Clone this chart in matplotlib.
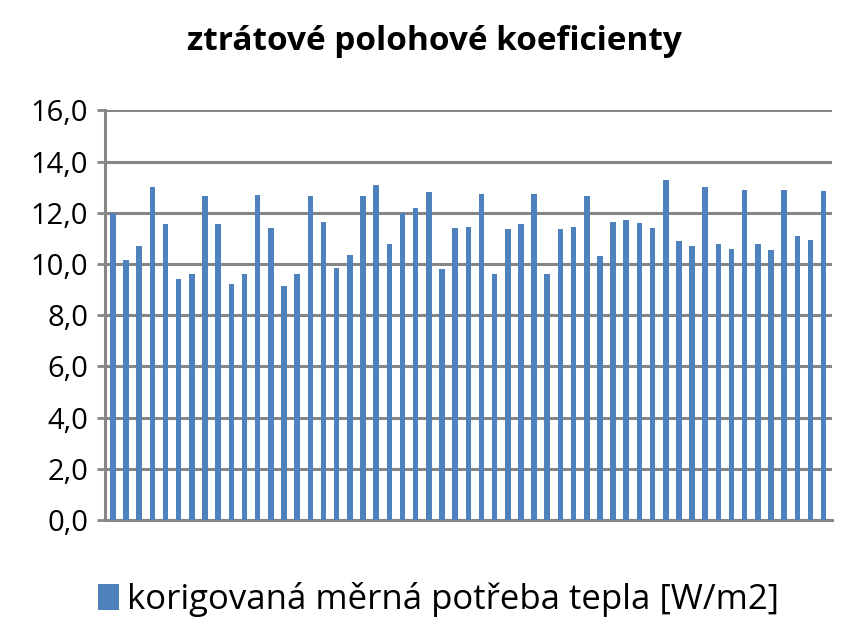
import matplotlib
matplotlib.use("Agg")
import matplotlib.pyplot as plt
from matplotlib.ticker import FuncFormatter

values = [12.0, 10.15, 10.7, 13.0, 11.55, 9.4, 9.6, 12.65, 11.55, 9.2, 9.6, 12.7, 11.4, 9.15, 9.6,
          12.65, 11.65, 9.85, 10.35, 12.65, 13.1, 10.8, 12.0, 12.2, 12.8, 9.8, 11.4, 11.45, 12.75, 9.6,
          11.35, 11.55, 12.75, 9.6, 11.35, 11.45, 12.65, 10.3, 11.65, 11.7, 11.6, 11.4, 13.3, 10.9, 10.7,
          13.0, 10.8, 10.6, 12.9, 10.8, 10.55, 12.9, 11.1, 10.95, 12.85]
title = "ztrátové polohové koeficienty"
series_label = "korigovaná měrná potřeba tepla [W/m2]"

fig = plt.figure(figsize=(8.6, 6.4), dpi=100)
ax = fig.add_axes([0.122, 0.1875, 0.845, 0.64])
x = list(range(len(values)))
ax.bar(x, values, width=0.42, color="#4F81BD", label=series_label, zorder=3)
ax.set_ylim(0, 16)
ax.set_yticks(range(0, 17, 2))
ax.yaxis.set_major_formatter(FuncFormatter(lambda v, p: f"{v:.1f}".replace(".", ",")))
ax.set_xlim(-0.6, len(values) - 0.4)
ax.set_xticks([])
ax.grid(axis="y", color="#868686", linewidth=2.2, zorder=0)
for s in ["top", "right"]:
    ax.spines[s].set_visible(False)
ax.spines["left"].set_color("#868686"); ax.spines["left"].set_linewidth(2.2)
ax.spines["bottom"].set_color("#868686"); ax.spines["bottom"].set_linewidth(2.2)
ax.tick_params(axis="y", labelsize=21, length=6, width=2, color="#868686", pad=6)
for t in ax.get_yticklabels():
    t.set_family("Open Sans")
fig.text(0.505, 0.935, title, ha="center", va="center", fontsize=24, fontweight="bold", family="Open Sans")
fig.legend(loc="center", bbox_to_anchor=(0.51, 0.063), frameon=False,
           prop={"family": "Open Sans", "size": 25}, handlelength=0.6, handleheight=0.8, handletextpad=0.25)
fig.savefig("out.png", dpi=100)
